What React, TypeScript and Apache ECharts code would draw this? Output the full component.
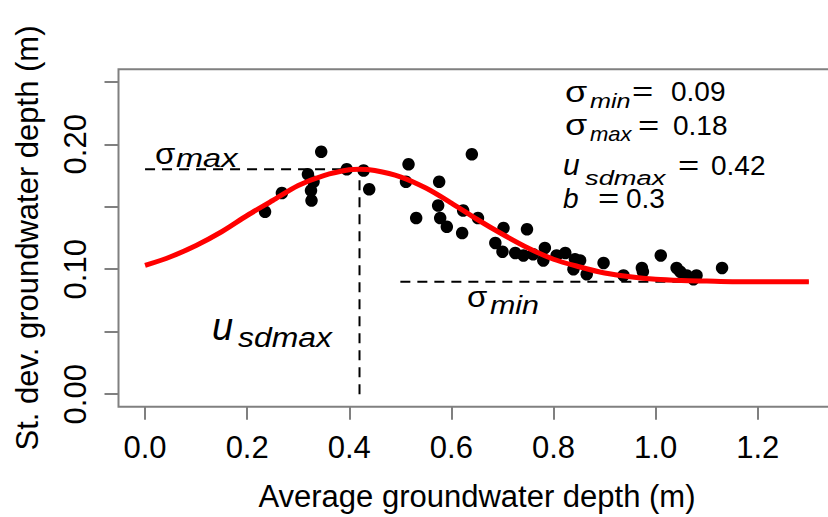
import React, { useEffect, useRef } from 'react';
import * as echarts from 'echarts';

// Observed points (average depth, st. dev. depth)
const obsX = [0.235, 0.268, 0.319, 0.330, 0.325, 0.326, 0.345, 0.395, 0.428, 0.439,
  0.511, 0.516, 0.531, 0.574, 0.576, 0.578, 0.591, 0.621, 0.623, 0.640, 0.652,
  0.702, 0.686, 0.700, 0.725, 0.741, 0.748, 0.760, 0.783, 0.780, 0.806, 0.823,
  0.842, 0.852, 0.839, 0.865, 0.898, 0.937, 0.973, 0.975, 1.010, 1.041, 1.048,
  1.061, 1.074, 1.080, 1.130];
const obsY = [0.146, 0.161, 0.176, 0.170, 0.163, 0.155, 0.194, 0.180, 0.179, 0.164,
  0.170, 0.184, 0.141, 0.151, 0.170, 0.141, 0.134, 0.129, 0.147, 0.192, 0.141,
  0.133, 0.121, 0.114, 0.113, 0.111, 0.132, 0.112, 0.117, 0.107, 0.111, 0.113,
  0.108, 0.107, 0.100, 0.096, 0.105, 0.095, 0.101, 0.098, 0.111, 0.101, 0.098,
  0.095, 0.092, 0.095, 0.101];

// Fitted curve
const curveX = [0, 0.05, 0.1, 0.15, 0.2, 0.25, 0.3, 0.35, 0.4, 0.42, 0.45, 0.5, 0.55, 0.6,
  0.65, 0.7, 0.75, 0.8, 0.85, 0.9, 0.95, 1.0, 1.05, 1.1, 1.15, 1.2, 1.25, 1.3];
const curveY = [0.103, 0.110, 0.119, 0.130, 0.143, 0.155, 0.167, 0.175, 0.1796, 0.180, 0.179,
  0.174, 0.165, 0.153, 0.140, 0.128, 0.117, 0.108, 0.102, 0.097, 0.094, 0.092, 0.091,
  0.0905, 0.090, 0.090, 0.090, 0.090];

const xTicks = [0, 0.2, 0.4, 0.6, 0.8, 1.0, 1.2];
const yTicks = [0, 0.05, 0.1, 0.15, 0.2, 0.25];
const yTickLabels = [0, 0.1, 0.2];

const sigmaMin = 0.09;
const sigmaMax = 0.18;
const uSdmax = 0.42;
const bParam = 0.3;
const sigmaMinLineX = [0.5, 1.3];

const FONT = '"Liberation Sans", Arial, sans-serif';

function txt(text: string, x: number, baseline: number, fs: number, opts: any = {}) {
  return {
    type: 'text',
    x,
    y: baseline - 0.3465 * fs,
    scaleX: opts.sx ?? 1,
    z: 100,
    silent: true,
    style: {
      text,
      x: 0,
      y: 0,
      fontSize: fs,
      fontFamily: FONT,
      fontStyle: opts.italic ? 'italic' : 'normal',
      fill: '#000',
      align: 'left',
      verticalAlign: 'middle',
    },
  };
}

export default function App() {
  const ref = useRef<HTMLDivElement>(null);
  useEffect(() => {
    if (!ref.current) return;
    const chart = echarts.init(ref.current, null, { renderer: 'svg' });
    const axisText = { fontSize: 31, fontFamily: FONT, color: '#000' };
    const dashed = { color: '#000', width: 2, type: [10, 7] as any };
    const graphics: any[] = [
      // parameter block
      txt('σ', 565, 101.7, 30, { sx: 1.2 }),
      txt('min', 590, 108, 21, { italic: true, sx: 1.2 }),
      txt('=', 632, 101.7, 28, { sx: 1.3 }),
      txt(sigmaMin.toFixed(2), 671, 101.7, 28),
      txt('σ', 565, 135, 30, { sx: 1.2 }),
      txt('max', 590, 141, 21, { italic: true, sx: 1.05 }),
      txt('=', 638, 135, 28, { sx: 1.3 }),
      txt(sigmaMax.toFixed(2), 673, 135, 28),
      txt('u', 563, 175, 30, { italic: true }),
      txt('sdmax', 585, 185, 21, { italic: true, sx: 1.3 }),
      txt('=', 678, 175, 28, { sx: 1.3 }),
      txt(uSdmax.toFixed(2), 711, 175, 28),
      txt('b', 563, 208, 28, { italic: true }),
      txt('=', 598, 208, 28, { sx: 1.3 }),
      txt(String(bParam), 626, 208, 28),
      // labels near lines
      txt('σ', 155, 163.5, 30, { sx: 1.1 }),
      txt('max', 176, 166.7, 26, { italic: true, sx: 1.25 }),
      txt('σ', 467, 306.7, 30, { sx: 1.1 }),
      txt('min', 490, 314, 26, { italic: true, sx: 1.17 }),
      txt('u', 212, 340, 38, { italic: true }),
      txt('sdmax', 238, 347, 28, { italic: true, sx: 1.14 }),
    ];
    chart.setOption({
      animation: false,
      backgroundColor: '#fff',
      grid: {
        left: 118.5,
        top: 69.3,
        right: -7.4,
        bottom: 110.3,
        show: true,
        borderColor: '#808080',
        borderWidth: 2,
        backgroundColor: '#fff',
        containLabel: false,
        outerBoundsMode: 'none',
      },
      xAxis: {
        type: 'value',
        min: -0.052,
        max: 1.352,
        splitLine: { show: false },
        axisLine: { show: false, onZero: false },
        axisTick: { show: true, length: 13, lineStyle: { color: '#808080', width: 2 }, customValues: xTicks },
        axisLabel: { ...axisText, customValues: xTicks, formatter: (v: number) => v.toFixed(1), margin: 25 },
        name: 'Average groundwater depth (m)',
        nameLocation: 'middle',
        nameGap: 74,
        nameTextStyle: axisText,
      },
      yAxis: {
        type: 'value',
        min: -0.01,
        max: 0.26,
        splitLine: { show: false },
        axisLine: { show: false, onZero: false },
        axisTick: { show: true, length: 14, lineStyle: { color: '#808080', width: 2 }, customValues: yTicks },
        axisLabel: { ...axisText, customValues: yTickLabels, formatter: (v: number) => v.toFixed(2), rotate: 90, margin: 28 },
        name: 'St. dev. groundwater depth (m)',
        nameLocation: 'middle',
        nameRotate: 90,
        nameGap: 76,
        nameTextStyle: axisText,
      },
      series: [
        {
          type: 'line', symbol: 'none', lineStyle: dashed, z: 2, silent: true,
          data: [[0, sigmaMax], [uSdmax, sigmaMax]],
        },
        {
          type: 'line', symbol: 'none', lineStyle: dashed, z: 2, silent: true,
          data: [[uSdmax, 0], [uSdmax, sigmaMax]],
        },
        {
          type: 'line', symbol: 'none', lineStyle: dashed, z: 2, silent: true,
          data: [[sigmaMinLineX[0], sigmaMin], [sigmaMinLineX[1], sigmaMin]],
        },
        {
          type: 'scatter', symbolSize: 12.5, itemStyle: { color: '#000', opacity: 1 }, z: 3,
          data: obsX.map((x, i) => [x, obsY[i]]),
        },
        {
          type: 'line', symbol: 'none', smooth: 0.3, z: 4,
          lineStyle: { color: '#ff0000', width: 5 },
          data: curveX.map((x, i) => [x, curveY[i]]),
        },
      ],
      graphic: graphics,
    });
    return () => chart.dispose();
  }, []);
  return <div ref={ref} style={{ position: 'fixed', left: 0, top: 0, width: 828, height: 517 }} />;
}
